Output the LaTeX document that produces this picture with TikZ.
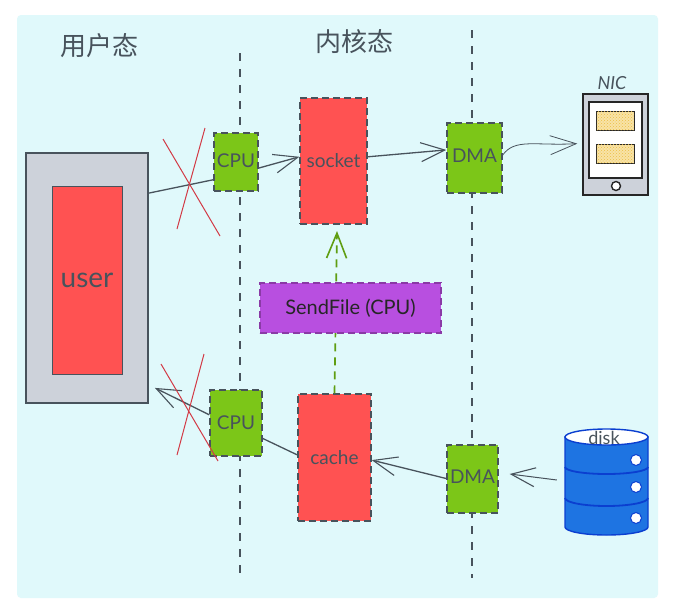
\documentclass[tikz,border=0pt]{standalone}
\usepackage{fontspec}
\setmainfont{Lato}
\newfontfamily\cjk{Noto Sans CJK SC}
\usetikzlibrary{arrows.meta,patterns}
\definecolor{ink}{HTML}{48535C}
\definecolor{bgc}{HTML}{E0F9FB}
\definecolor{redf}{HTML}{FF5252}
\definecolor{greenf}{HTML}{7CC618}
\definecolor{olive}{HTML}{5F9E12}
\definecolor{purp}{HTML}{B84FE0}
\definecolor{purpd}{HTML}{8A3AA6}
\definecolor{greyf}{HTML}{CDD2DA}
\definecolor{bluef}{HTML}{1E74E2}
\definecolor{blued}{HTML}{0B3FD0}
\definecolor{yell}{HTML}{F8E3A6}
\definecolor{yelld}{HTML}{EDBE45}
\definecolor{crossc}{HTML}{D23A45}
\tikzset{
  x=1pt,y=-1pt,
  box/.style={draw=ink,dash pattern=on 7pt off 4pt,line width=1.4pt,inner sep=0pt,text=ink,font=\fontsize{19}{19}\selectfont},
  redbox/.style={box,fill=redf},
  greenbox/.style={box,fill=greenf},
  conn/.style={draw=ink,line width=1.3pt},
  arr/.style={conn,-{Straight Barb[length=24pt,width=19pt,line width=1.1pt]}},
  lane/.style={draw=ink,line width=1.1pt,dash pattern=on 8pt off 8pt},
  cross/.style={draw=crossc,line width=1pt},
  head/.style={text=ink,font=\cjk\fontsize{26}{26}\selectfont,inner sep=0pt},
  solid box/.style={draw=black!85,line width=1.4pt,inner sep=0pt},
  chip/.style={solid box,line width=1pt,fill=yell,postaction={pattern=crosshatch dots,pattern color=yelld},minimum width=38pt,minimum height=19pt}
}
\begin{document}
\begin{tikzpicture}
\useasboundingbox (0,0) rectangle (680,614);
\fill[white] (0,0) rectangle (680,614);
\fill[bgc,rounded corners=4pt] (17,15) rectangle (658,598);
% lanes
\coordinate (l1a) at (240,53); \coordinate (l1b) at (240,578);
\coordinate (l2a) at (472,30); \coordinate (l2b) at (472,578);
\draw[lane] (l1a) -- (l1b);
\draw[lane] (l2a) -- (l2b);
\node[head] (hu) at (99,46) {用户态};
\node[head] (hk) at (354.5,42) {内核态};
% user
\node[draw=ink,line width=1.3pt,fill=greyf,minimum width=122pt,minimum height=250pt,inner sep=0pt] (usr) at (87,278) {};
\node[draw=ink,line width=1pt,fill=redf,text=ink,inner sep=0pt,minimum width=70pt,minimum height=188pt,font=\fontsize{28}{28}\selectfont] (ured) at (87,280) {\raisebox{-2pt}{user}};
% boxes
\node[greenbox,minimum width=44pt,minimum height=58pt] (cpu1) at (236,162) {\raisebox{3pt}{CPU}};
\node[redbox,minimum width=67pt,minimum height=126pt] (sock) at (333.5,161) {socket};
\node[greenbox,minimum width=55pt,minimum height=70pt] (dma1) at (474.5,158) {\raisebox{5pt}{DMA}};
\node[greenbox,minimum width=52pt,minimum height=66pt] (cpu2) at (236,423) {CPU};
\node[redbox,minimum width=73pt,minimum height=127pt] (cach) at (334.5,457.5) {cache};
\node[greenbox,minimum width=51pt,minimum height=68pt] (dma2) at (472.5,479) {\raisebox{4pt}{DMA}};
% dashed green
\coordinate (sockgap) at (337,231);
\draw[draw=olive,line width=1.7pt,dash pattern=on 8pt off 6pt,-{Straight Barb[length=25pt,width=20pt,line width=1.6pt]}] (cach.north) -- (sockgap);
\node[box,draw=purpd,fill=purp,minimum width=181pt,minimum height=50pt,font=\fontsize{20}{20}\selectfont,text=black!85] (sf) at (350.5,308) {SendFile (CPU)};
% NIC
\node[solid box,fill=greyf,minimum width=65pt,minimum height=101pt] (nic) at (615.5,144.5) {};
\node[solid box,fill=white,minimum width=53pt,minimum height=76pt] (nics) at (615.5,140) {};
\node[chip] (n1) at (615,121) {};
\node[chip] (n2) at (615,154) {};
\node[circle,solid box,fill=white,minimum size=9pt] (nb) at (616,186) {};
\node[text=ink,inner sep=0pt,font=\itshape\fontsize{18}{18}\selectfont] (nl) at (612,83) {NIC};
% disk
\fill[bluef,draw=blued,line width=1.4pt] (565,437) -- (565,527) arc[start angle=180,end angle=360,x radius=41.5pt,y radius=8pt] -- (648,437) -- cycle;
\node[minimum width=83pt,minimum height=105pt,inner sep=0pt] (disk) at (606.5,481) {};
\filldraw[fill=white,draw=blued,line width=1.4pt] (606.5,437) ellipse[x radius=41.5pt,y radius=8pt];
\draw[blued,line width=1.8pt] (565,467) arc[start angle=180,end angle=360,x radius=41.5pt,y radius=7pt];
\draw[blued,line width=1.8pt] (565,498) arc[start angle=180,end angle=360,x radius=41.5pt,y radius=8pt];
\foreach \yy in {460,487,518} \filldraw[fill=white,draw=blued,line width=1pt] (636,\yy) circle[radius=5.5pt];
\node[text=ink,inner sep=0pt,font=\fontsize{18}{18}\selectfont] (dl) at (604,438) {disk};
% connectors
\draw[conn] (usr.54) -- (cpu1.218);
\draw[arr] (cpu1.-15) -- (sock.173);
\draw[arr] (sock.7) -- (dma1.164);
\draw[arr,line width=.8pt,shorten >=5pt,-{Straight Barb[length=26pt,width=19pt,line width=.8pt]}] (dma1.6) .. controls (515,138) and (535,146) .. (nic.178);
\draw[arr,line width=1pt,shorten <=8pt] (disk.west) -- ([xshift=11pt,yshift=5pt]dma2.east);
\draw[arr] (dma2.179) -- (cach.-4);
\draw[conn] (cach.176) -- (cpu2.-30);
\draw[arr,shorten >=7pt] (cpu2.163) -- (usr.-60);
% crosses
\coordinate (xa) at (163,139); \coordinate (xb) at (220,236);
\coordinate (xc) at (205,128); \coordinate (xd) at (177,229);
\draw[cross] (xa) -- (xb); \draw[cross] (xc) -- (xd);
\coordinate (ya) at (161,364); \coordinate (yb) at (218,461);
\coordinate (yc) at (204,354); \coordinate (yd) at (177,455);
\draw[cross] (ya) -- (yb); \draw[cross] (yc) -- (yd);
\end{tikzpicture}
\end{document}
